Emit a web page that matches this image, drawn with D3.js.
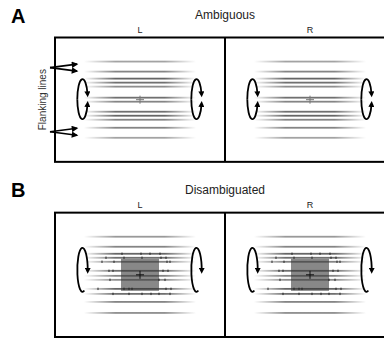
<!DOCTYPE html>
<html>
<head>
<meta charset="utf-8">
<script src="https://cdn.jsdelivr.net/npm/d3@7"></script>
<style>
  html, body { margin: 0; padding: 0; background: #fff; }
  svg { display: block; font-family: "Liberation Sans", Arial, sans-serif; }
</style>
</head>
<body>
<svg id="fig" width="384" height="341"></svg>
<script>
// figure content
const rows = ['Ambiguous', 'Disambiguated'];
const rowLetters = ['A', 'B'];
const eyes = ['L', 'R'];

// horizontal grating lines: vertical offset from panel centre and grey level
const linesA = [-38, -28, -21, -17, -13, -2, 2, 12, 16, 20, 28, 38];
const shadeA = [0.45, 0.6, 0.75, 0.7, 0.55, 0.7, 0.6, 0.7, 0.75, 0.6, 0.6, 0.45];
const linesB = [-38, -28, -21, -17, -13, -4, 1, 5, 14, 19, 27, 38];
const shadeB = [0.5, 0.6, 0.75, 0.7, 0.6, 0.7, 0.6, 0.55, 0.75, 0.7, 0.6, 0.55];

// dots on the disambiguated lines (line index -> x offsets)
const dotsB = [
  { line: 2, xs: [-18, 1, 10, 20] },
  { line: 3, xs: [-34, -16, 2, 21, 26] },
  { line: 4, xs: [-38, -26, 27, 30] },
  { line: 5, xs: [-31, -27, 23, 28] },
  { line: 7, xs: [-30, 19, 25] },
  { line: 8, xs: [-42, -16, -11, -8, 26, 31] },
  { line: 9, xs: [-27, -11, 2, 11, 19, 30] }
];

const loopOffsets = [-57, 57];
const flankOffsets = [-32, 32];
const squareSize = [38, 32];

const svg = d3.select('#fig');

const xPanel = d3.scaleBand().domain(eyes).range([55, 395]);
const yPanel = d3.scaleBand().domain(rows).range([37.5, 337]).paddingInner(0.29);
const sx = d3.scaleLinear().domain([-85, 85]).range([0, xPanel.bandwidth()]);
const sy = d3.scaleLinear().domain([-62, 62]).range([0, yPanel.bandwidth()]);

const defs = svg.append('defs');
const grad = defs.append('linearGradient').attr('id', 'fade');
[[0, 0], [0.28, 1], [0.72, 1], [1, 0]].forEach(function (s) {
  grad.append('stop').attr('offset', s[0]).attr('stop-color', '#333').attr('stop-opacity', s[1]);
});
defs.append('marker')
  .attr('id', 'head')
  .attr('viewBox', '0 -5 10 10')
  .attr('refX', 5).attr('refY', 0)
  .attr('markerWidth', 6.5).attr('markerHeight', 6)
  .attr('markerUnits', 'userSpaceOnUse')
  .attr('orient', 'auto')
  .append('path').attr('d', 'M0,-5L10,0L0,5Z').attr('fill', '#000');
defs.append('marker')
  .attr('id', 'flank')
  .attr('viewBox', '0 -5 10 10')
  .attr('refX', 8).attr('refY', 0)
  .attr('markerWidth', 9).attr('markerHeight', 6.5)
  .attr('markerUnits', 'userSpaceOnUse')
  .attr('orient', 'auto')
  .append('path').attr('d', 'M0,-5L10,0L0,5Z').attr('fill', '#000');

function loopPath(cx, cy, rx, ry, kind) {
  // kind: 'up' = over the top, 'down' = under the bottom, 'c' = open C shape
  if (kind === 'up') {
    const a = -14 * Math.PI / 180;
    return 'M' + (cx - rx) + ',' + cy + 'A' + rx + ',' + ry + ' 0 0 1 ' +
      (cx + rx * Math.cos(a)) + ',' + (cy + ry * Math.sin(a));
  }
  if (kind === 'down') {
    const a = 14 * Math.PI / 180;
    return 'M' + (cx - rx) + ',' + cy + 'A' + rx + ',' + ry + ' 0 0 0 ' +
      (cx + rx * Math.cos(a)) + ',' + (cy + ry * Math.sin(a));
  }
  const s = 70 * Math.PI / 180;
  return 'M' + (cx + rx * Math.cos(s)) + ',' + (cy + ry * Math.sin(s)) +
    'A' + rx + ',' + ry + ' 0 1 1 ' + (cx + rx) + ',' + (cy + 1);
}

rows.forEach(function (row, ri) {
  const top = yPanel(row);
  const h = yPanel.bandwidth();
  const lines = ri === 0 ? linesA : linesB;
  const shades = ri === 0 ? shadeA : shadeB;

  svg.append('text')
    .attr('x', 11).attr('y', top - 15 + (ri === 0 ? 0 : -1))
    .attr('font-size', 20).attr('font-weight', 'bold')
    .text(rowLetters[ri]);

  svg.append('text')
    .attr('x', xPanel('R')).attr('y', top - 19)
    .attr('text-anchor', 'middle').attr('font-size', 12).attr('fill', '#222')
    .text(row);

  eyes.forEach(function (eye) {
    const g = svg.append('g').attr('transform', 'translate(' + xPanel(eye) + ',' + top + ')');

    g.append('text')
      .attr('x', sx(0)).attr('y', -5)
      .attr('text-anchor', 'middle').attr('font-size', 9).attr('fill', '#222')
      .text(eye);

    if (ri === 1) {
      g.append('rect')
        .attr('x', sx(-squareSize[0] / 2)).attr('y', sy(-squareSize[1] / 2))
        .attr('width', sx(squareSize[0]) - sx(0)).attr('height', sy(squareSize[1]) - sy(0))
        .attr('fill', '#888');
    }

    g.selectAll('rect.grating')
      .data(lines)
      .join('rect')
      .attr('class', 'grating')
      .attr('x', sx(-56)).attr('width', sx(56) - sx(-56))
      .attr('y', function (d) { return sy(d) - 0.9; })
      .attr('height', 1.8)
      .attr('fill', 'url(#fade)')
      .attr('opacity', function (d, i) { return shades[i]; });

    if (ri === 1) {
      dotsB.forEach(function (dl) {
        g.selectAll(null)
          .data(dl.xs)
          .join('rect')
          .attr('x', function (d) { return sx(d) - 0.8; })
          .attr('y', sy(lines[dl.line]) - 1.2)
          .attr('width', 1.6).attr('height', 2.4)
          .attr('fill', '#222').attr('opacity', 0.6);
      });
    }

    // fixation cross
    const cross = ri === 0 ? '#777' : '#111';
    g.append('line').attr('x1', sx(-4)).attr('x2', sx(4)).attr('y1', sy(0)).attr('y2', sy(0))
      .attr('stroke', cross).attr('stroke-width', 1);
    g.append('line').attr('x1', sx(0)).attr('x2', sx(0)).attr('y1', sy(-4)).attr('y2', sy(4))
      .attr('stroke', cross).attr('stroke-width', 1);

    // rotation loops
    loopOffsets.forEach(function (o) {
      const cx = sx(o) - 0.5;
      const cy = ri === 0 ? sy(-0.5) : sy(-5);
      const ry = ri === 0 ? 20 : 22;
      const kinds = ri === 0 ? ['up', 'down'] : ['c'];
      kinds.forEach(function (k) {
        g.append('path')
          .attr('d', loopPath(cx, cy, 5.2, ry, k))
          .attr('fill', 'none').attr('stroke', '#000').attr('stroke-width', 1.8)
          .attr('marker-end', 'url(#head)');
      });
    });

    // flanking line markers
    if (ri === 0 && eye === 'L') {
      flankOffsets.forEach(function (o) {
        const y0 = sy(o);
        [-3.5, 3.5].forEach(function (dy) {
          g.append('line')
            .attr('x1', -5).attr('y1', y0)
            .attr('x2', 22).attr('y2', y0 + dy)
            .attr('stroke', '#000').attr('stroke-width', 1.6)
            .attr('marker-end', 'url(#flank)');
        });
      });
      g.append('text')
        .attr('transform', 'translate(-9.5,' + sy(0) + ') rotate(-90)')
        .attr('text-anchor', 'middle').attr('font-size', 10).attr('fill', '#333')
        .text('Flanking lines');
    }
  });

  // panel frame
  svg.append('rect')
    .attr('x', xPanel('L')).attr('y', top)
    .attr('width', xPanel.bandwidth() * 2).attr('height', h)
    .attr('fill', 'none').attr('stroke', '#000').attr('stroke-width', 2);
  svg.append('line')
    .attr('x1', xPanel('R')).attr('x2', xPanel('R'))
    .attr('y1', top).attr('y2', top + h)
    .attr('stroke', '#000').attr('stroke-width', 2);
});
</script>
</body>
</html>
